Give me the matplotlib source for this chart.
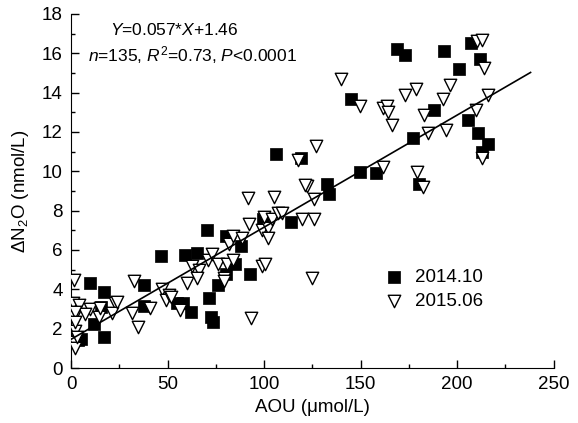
import numpy as np
import matplotlib
matplotlib.use("Agg")
import matplotlib.pyplot as plt
from matplotlib.ticker import MultipleLocator

plt.rcParams['font.family'] = ['Liberation Sans', 'DejaVu Sans']
plt.rcParams['mathtext.fontset'] = 'custom'
plt.rcParams['mathtext.rm'] = 'Liberation Sans'
plt.rcParams['mathtext.it'] = 'Liberation Sans:italic'

# 2014.10 cruise (squares)
aou_2014 = [5, 3.6, 10, 12, 15.5, 17, 17, 38, 38, 46.5, 55, 58, 59, 62, 65, 70.5,
            71.5, 72.5, 73.5, 76, 80, 80, 85, 88, 92.5, 99.5, 106, 114, 119,
            132.5, 133.5, 145, 149.5, 158, 169, 173, 177, 180, 188, 193, 201,
            205.5, 207, 211, 212, 213, 216]
n2o_2014 = [1.5, 1.4, 4.3, 2.25, 3.1, 3.85, 1.6, 4.2, 3.15, 5.7, 3.3, 3.3, 5.75,
            2.85, 5.85, 7.0, 3.55, 2.6, 2.35, 4.2, 6.7, 4.8, 5.3, 6.2, 4.8, 7.6,
            10.9, 7.4, 10.7, 9.35, 8.85, 13.7, 9.95, 9.9, 16.2, 15.9, 11.7, 9.35,
            13.1, 16.1, 15.2, 12.6, 16.5, 11.95, 15.7, 11.0, 11.4]

# 2015.06 cruise (triangles)
aou_2015 = [1.5, 1, 1.5, 2, 1.5, 2, 4, 10, 7, 2, 14.5, 22.5, 21, 2, 3, 15, 24,
            32.5, 31.5, 34.5, 41, 47, 49, 50.5, 52, 56.5, 60, 62.5, 66, 65, 71,
            73, 76, 81, 84, 79, 79, 82, 84, 88.5, 92, 99, 102, 102, 100, 104,
            107, 99, 100.5, 93, 91.5, 105, 109, 119.5, 126, 125, 122, 126, 121,
            117.5, 127, 140, 149.5, 161.5, 163.5, 164, 166, 161.5, 173, 178.5,
            179, 182.5, 183, 185, 192.5, 194, 196.5, 209.5, 210, 213, 214, 216,
            213]
n2o_2015 = [4.45, 3.3, 2.6, 1.9, 1.3, 1.0, 3.2, 3.0, 2.75, 2.85, 2.6, 3.3, 2.8,
            2.35, 1.6, 3.05, 3.35, 4.4, 2.8, 2.1, 3.05, 4.0, 3.45, 3.7, 3.6,
            2.95, 4.3, 5.2, 5.0, 4.6, 5.5, 5.8, 5.3, 5.3, 5.5, 4.6, 4.4, 6.3,
            6.7, 6.6, 7.3, 7.0, 7.1, 6.6, 7.7, 7.6, 7.9, 5.2, 5.3, 2.55, 8.65,
            8.7, 7.9, 7.6, 7.6, 4.6, 9.25, 8.6, 9.3, 10.6, 11.3, 14.7, 13.3,
            13.2, 13.3, 13.0, 12.35, 10.2, 13.9, 14.2, 9.95, 9.2, 12.85, 11.95,
            13.7, 12.1, 14.4, 13.1, 16.6, 16.7, 15.25, 13.9, 10.7]

slope, intercept = 0.057, 1.46
fit_x = np.array([0, 238])

fig = plt.figure(figsize=(5.78, 4.23), dpi=100)
ax = fig.add_axes([0.123, 0.130, 0.835, 0.837])

ax.scatter(aou_2014, n2o_2014, marker='s', s=70, c='black', edgecolors='black',
           linewidths=0.5, label='2014.10', zorder=3)
ax.scatter(aou_2015, n2o_2015, marker='v', s=80, c='white', edgecolors='black',
           linewidths=1.0, label='2015.06', zorder=3)
ax.plot(fit_x, slope * fit_x + intercept, color='black', lw=1.2, zorder=4)

ax.set_xlim(0, 250)
ax.set_ylim(0, 18)
ax.xaxis.set_major_locator(MultipleLocator(50))
ax.xaxis.set_minor_locator(MultipleLocator(25))
ax.yaxis.set_major_locator(MultipleLocator(2))
ax.yaxis.set_minor_locator(MultipleLocator(1))
ax.tick_params(which='major', direction='in', length=6, width=1, labelsize=13.5,
               pad=6)
ax.tick_params(which='minor', direction='in', length=3, width=1)
ax.spines['top'].set_visible(False)
ax.spines['right'].set_visible(False)

ax.set_xlabel('AOU (μmol/L)', fontsize=13.5, labelpad=4)
ax.set_ylabel(r'ΔN$_2$O (nmol/L)', fontsize=13.5, labelpad=8)

ax.text(20.2, 17.2, r'$Y$=0.057*$X$+1.46', fontsize=12.5, va='center', ha='left')
ax.text(8.8, 15.9, r'$n$=135, $R^2$=0.73, $P$<0.0001', fontsize=12.5,
        va='center', ha='left')

ax.legend(loc='upper left', bbox_to_anchor=(0.615, 0.30), frameon=False,
          fontsize=13.5, handletextpad=0.1, labelspacing=0.35, borderaxespad=0)

fig.savefig('out.png', dpi=100)
